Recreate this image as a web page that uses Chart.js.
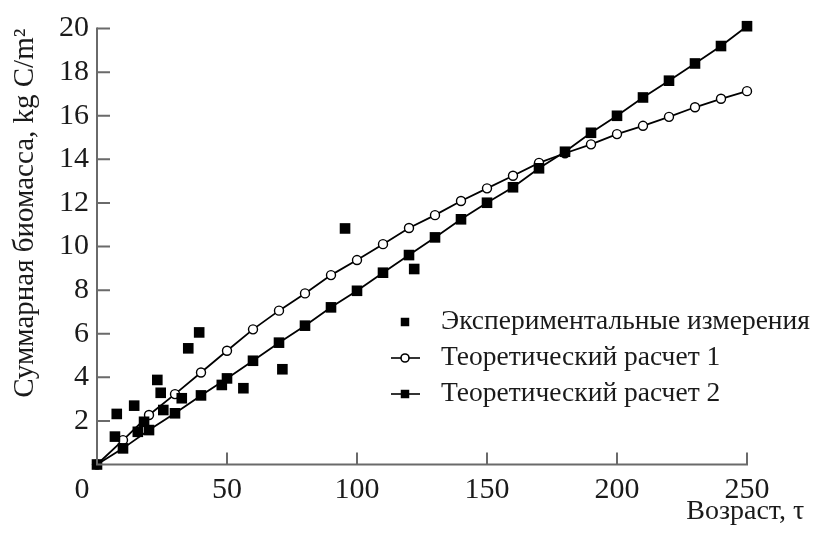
<!DOCTYPE html>
<html><head><meta charset="utf-8">
<script src="https://cdn.jsdelivr.net/npm/chart.js@4/dist/chart.umd.min.js"></script>
<style>html,body{margin:0;padding:0;background:#fff;overflow:hidden}canvas{display:block}</style>
</head><body>
<canvas id="c" width="818" height="543"></canvas>
<script>
// ---- data ----
const theoryX = [0,10,20,30,40,50,60,70,80,90,100,110,120,130,140,150,160,170,180,190,200,210,220,230,240,250];
const theory1 = [0,1.12,2.27,3.23,4.22,5.22,6.20,7.06,7.85,8.69,9.38,10.11,10.85,11.44,12.09,12.67,13.25,13.84,14.28,14.69,15.16,15.54,15.95,16.39,16.78,17.13];
const theory2 = [0,0.74,1.58,2.35,3.17,3.95,4.76,5.59,6.37,7.21,7.97,8.80,9.61,10.42,11.25,12.01,12.72,13.59,14.35,15.22,16.00,16.84,17.61,18.40,19.20,20.11];
const expX = [6.9,7.6,14.3,15.7,18.1,23.2,24.5,25.5,32.6,35.1,39.3,48.0,56.3,71.3,95.4,122.0];
const expY = [1.28,2.32,2.70,1.50,1.96,3.88,3.29,2.50,3.04,5.33,6.06,3.65,3.50,4.37,10.83,8.97];
const xTicks = [0,50,100,150,200,250];
const yTicks = [2,4,6,8,10,12,14,16,18,20];
const seriesNames = ['Экспериментальные измерения','Теоретический расчет 1','Теоретический расчет 2'];
const xTitle = 'Возраст, τ';
const yTitle = 'Суммарная биомасса, kg C/m²';

const FONT = '"Liberation Serif", serif';
const INK = '#1a1a1a';
const AXIS = '#6a6a6a';

const toPts = (xs, ys) => ys.map((y, i) => ({x: xs[i], y}));

const axesPlugin = {
  id: 'axesAndLegend',
  afterDraw(chart) {
    const ctx = chart.ctx, xs = chart.scales.x, ys = chart.scales.y;
    const x0 = xs.getPixelForValue(0), y0 = ys.getPixelForValue(0);
    ctx.save();
    ctx.strokeStyle = AXIS; ctx.lineWidth = 2; ctx.lineCap = 'butt';
    ctx.beginPath();
    ctx.moveTo(x0, ys.getPixelForValue(yTicks[yTicks.length-1]) - 1);
    ctx.lineTo(x0, y0);
    ctx.lineTo(xs.getPixelForValue(xTicks[xTicks.length-1]) + 1, y0);
    ctx.stroke();
    ctx.beginPath();
    yTicks.forEach(v => { const p = ys.getPixelForValue(v); ctx.moveTo(x0, p); ctx.lineTo(x0 + 13, p); });
    xTicks.forEach(v => { if (v === 0) return; const p = xs.getPixelForValue(v); ctx.moveTo(p, y0); ctx.lineTo(p, y0 - 12); });
    ctx.stroke();
    // legend
    const lx = 405, ly = 322, gap = 36, tx = 441;
    ctx.font = '27.5px ' + FONT; ctx.textBaseline = 'middle'; ctx.textAlign = 'left';
    chart.data.datasets.forEach((ds, i) => {
      const y = ly + i * gap;
      if (ds.showLine !== false) {
        ctx.strokeStyle = ds.borderColor; ctx.lineWidth = 1.6;
        ctx.beginPath(); ctx.moveTo(lx - 14, y); ctx.lineTo(lx + 15, y); ctx.stroke();
      }
      ctx.fillStyle = ds.pointBackgroundColor; ctx.strokeStyle = ds.pointBorderColor;
      Chart.helpers.drawPoint(ctx, {pointStyle: ds.pointStyle, radius: ds.legendRadius, borderWidth: ds.pointBorderWidth, rotation: 0}, lx, y);
      ctx.fillStyle = INK;
      ctx.fillText(ds.label, tx, y);
    });
    ctx.restore();
  }
};

new Chart(document.getElementById('c'), {
  type: 'scatter',
  data: {
    datasets: [
      {label: seriesNames[0], data: toPts(expX, expY), showLine: false, pointStyle: 'rect', pointRadius: 7.5,
       pointBackgroundColor: '#000', pointBorderColor: '#000', pointBorderWidth: 0, legendRadius: 6, clip: false, order: 0},
      {label: seriesNames[1], data: toPts(theoryX, theory1), showLine: true, borderColor: '#000', borderWidth: 1.8,
       pointStyle: 'circle', pointRadius: 4.5, pointBackgroundColor: '#fff', pointBorderColor: '#000', pointBorderWidth: 1.4,
       legendRadius: 4, tension: 0, clip: false, order: 2},
      {label: seriesNames[2], data: toPts(theoryX, theory2), showLine: true, borderColor: '#000', borderWidth: 1.8,
       pointStyle: 'rect', pointRadius: 7.5, pointBackgroundColor: '#000', pointBorderColor: '#000', pointBorderWidth: 0,
       legendRadius: 6, tension: 0, clip: false, order: 1}
    ]
  },
  options: {
    responsive: false, animation: false, devicePixelRatio: 1,
    layout: {padding: {top: 28.6, right: 13.8, left: 0, bottom: 0}},
    plugins: {legend: {display: false}, tooltip: {enabled: false}},
    scales: {
      x: {
        type: 'linear', min: 0, max: 272,
        border: {display: false}, grid: {display: false, drawTicks: false},
        afterBuildTicks: s => { s.ticks = xTicks.map(v => ({value: v})); },
        afterFit: s => { s.height = 78.5; },
        ticks: {padding: 8, color: INK, font: {family: FONT, size: 30},
                callback: v => v === 0 ? '0\u2003' : String(v)},
        title: {display: true, text: xTitle, align: 'end', color: INK, font: {family: FONT, size: 28}, padding: {top: 4, bottom: 15}}
      },
      y: {
        type: 'linear', min: 0, max: 20,
        border: {display: false}, grid: {display: false, drawTicks: false},
        afterBuildTicks: s => { s.ticks = yTicks.map(v => ({value: v})); },
        afterFit: s => { s.width = 97; },
        ticks: {padding: 8, color: INK, font: {family: FONT, size: 30}},
        title: {display: true, text: yTitle, align: 'end', color: INK, font: {family: FONT, size: 29}, padding: {top: 8, bottom: 4}}
      }
    }
  },
  plugins: [axesPlugin]
});
</script>
</body></html>
